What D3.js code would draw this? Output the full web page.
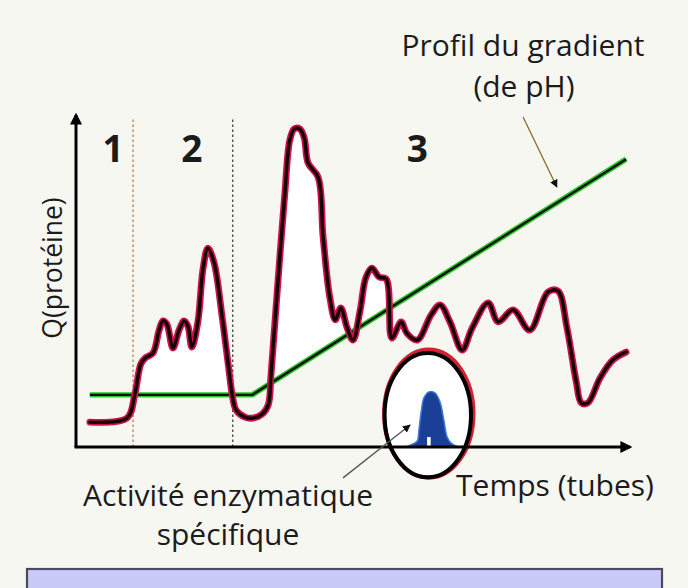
<!DOCTYPE html>
<html><head><meta charset="utf-8">
<script src="https://cdn.jsdelivr.net/npm/d3@7"></script>
<style>
html,body{margin:0;padding:0;background:#f7f7f2;}
svg{display:block;}
text{font-family:"Open Sans","Noto Sans",sans-serif;fill:#1b1b1b;}
</style></head>
<body>
<svg id="c" width="688" height="588"></svg>
<script>
// ---- data (x: tubes 0..100, y: arbitrary units 0..100) ----
const proteinX = [2.5,9.2,10.6,11.7,12.5,13.9,15.0,15.7,16.4,17.5,18.6,19.5,20.2,20.9,22.0,22.9,23.8,24.9,26.4,27.6,28.2,28.9,30.5,31.9,33.6,34.7,35.2,36.3,37.7,38.6,39.4,40.4,41.2,41.9,43.7,44.6,45.8,46.8,47.8,48.9,50.0,51.3,52.3,53.4,54.7,56.0,57.0,58.7,59.7,61.6,64.1,65.7,67.5,69.7,71.5,74.4,76.2,78.9,81.9,85.2,87.0,88.6,90.3,91.2,92.4,94.6,96.9,99.3];
const proteinY = [7.5,8.7,15.7,25.0,26.8,28.3,35.2,38.0,37.0,29.8,35.2,38.0,36.4,30.1,37.7,53.3,59.9,55.7,38.9,23.2,15.7,11.1,9.0,8.7,9.9,12.7,21.7,46.4,76.5,92.5,95.8,95.8,93.1,85.5,81.3,63.3,45.2,38.3,41.9,36.1,32.2,41.3,50.9,53.9,51.2,50.6,32.8,37.7,34.3,32.2,39.8,42.8,37.7,29.2,35.8,43.4,37.7,41.3,35.2,46.7,47.0,36.1,19.6,13.3,13.3,20.8,26.2,28.6];
const gradientX = [2.5,31.8,99.3];
const gradientY = [15.7,15.7,86.7];
const enzymeX = [59.6,60.8,61.6,61.9,62.3,62.8,63.7,64.8,65.7,66.4,67.0,67.7,69.0];
const enzymeY = [0,0.9,1.8,5.1,10.5,14.8,16.6,16.3,13.6,8.1,3.0,1.2,0];
const separators = [10.3, 28.3];
const regionLabels = ["1","2","3"];
const regionX = [6.7, 20.9, 61.6];

const svg = d3.select("#c");
const x = d3.scaleLinear().domain([0,100]).range([76,630]);
const y = d3.scaleLinear().domain([0,100]).range([447,115]);

const prot = proteinX.map((v,i)=>[v,proteinY[i]]);
const grad = gradientX.map((v,i)=>[v,gradientY[i]]);
const enz = enzymeX.map((v,i)=>[v,enzymeY[i]]);
const gradAt = d3.scaleLinear().domain(gradientX).range(gradientY).clamp(true);

const defs = svg.append("defs");
defs.append("marker").attr("id","axArrow").attr("viewBox","0 0 10 10")
  .attr("refX",8).attr("refY",5).attr("markerWidth",12).attr("markerHeight",12)
  .attr("orient","auto").attr("markerUnits","userSpaceOnUse")
  .append("path").attr("d","M0,0 L10,5 L0,10 z").attr("fill","#000");
defs.append("marker").attr("id","ann").attr("viewBox","0 0 10 10")
  .attr("refX",9).attr("refY",5).attr("markerWidth",8).attr("markerHeight",8)
  .attr("orient","auto").attr("markerUnits","userSpaceOnUse")
  .append("path").attr("d","M0,0 L10,5 L0,10 z").attr("fill","#111");

// clip: region above gradient line
const clipPts = [[x(0),0],[x(0),y(gradAt(0))]].concat(d3.range(0,101,1).map(v=>[x(v),y(gradAt(v))])).concat([[x(100),0]]);
defs.append("clipPath").attr("id","above").append("path").attr("d","M"+clipPts.join("L")+"Z");

// white fill under peaks
const area = d3.area().x(d=>x(d[0])).y0(d=>y(gradAt(d[0]))).y1(d=>y(d[1])).curve(d3.curveCatmullRom.alpha(0.5));
svg.append("path").datum(prot.slice(2)).attr("d",area).attr("fill","#ffffff").attr("clip-path","url(#above)");

// separators
svg.selectAll("line.sep").data(separators).join("line")
  .attr("x1",d=>x(d)).attr("x2",d=>x(d)).attr("y1",y(0)).attr("y2",y(99))
  .attr("stroke",(d,i)=>i===0?"#b07a45":"#333").attr("stroke-width",1.2)
  .attr("stroke-dasharray","2.5,2.5");

// region labels
svg.selectAll("text.reg").data(regionLabels).join("text")
  .attr("x",(d,i)=>x(regionX[i])).attr("y",162).attr("text-anchor","middle")
  .attr("font-size",37).attr("font-weight","bold").text(d=>d);

// gradient line
const line = d3.line().x(d=>x(d[0])).y(d=>y(d[1]));
svg.append("path").datum(grad).attr("d",line).attr("fill","none").attr("stroke","#2bc42b").attr("stroke-width",5.4).attr("stroke-linejoin","round");
svg.append("path").datum(grad).attr("d",line).attr("fill","none").attr("stroke","#0b160b").attr("stroke-width",2.4).attr("stroke-linejoin","round");

// protein curve
const cl = d3.line().x(d=>x(d[0])).y(d=>y(d[1])).curve(d3.curveCatmullRom.alpha(0.5));
svg.append("path").datum(prot).attr("d",cl).attr("fill","none").attr("stroke","#d0124c").attr("stroke-width",6.8).attr("stroke-linejoin","round").attr("stroke-linecap","round");
svg.append("path").datum(prot).attr("d",cl).attr("fill","none").attr("stroke","#140008").attr("stroke-width",3.4).attr("stroke-linejoin","round").attr("stroke-linecap","round");

// ellipse highlighting enzyme activity
const ecx = 63.5, ecy = 9.6, erx = 7.8, ery = 18.7;
svg.append("ellipse").attr("cx",x(ecx)+1).attr("cy",y(ecy)-1.5).attr("rx",x(erx)-x(0)+1.5).attr("ry",y(0)-y(ery)+2)
  .attr("fill","#ffffff").attr("stroke","#d42030").attr("stroke-width",4);
svg.append("ellipse").attr("cx",x(ecx)).attr("cy",y(ecy)).attr("rx",x(erx)-x(0)).attr("ry",y(0)-y(ery))
  .attr("fill","none").attr("stroke","#000").attr("stroke-width",4);

// enzyme peak
const ea = d3.area().x(d=>x(d[0])).y0(y(0)).y1(d=>y(d[1])).curve(d3.curveCatmullRom.alpha(0.5));
svg.append("path").datum(enz).attr("d",ea).attr("fill","#1b3f96").attr("stroke","#3d7fd8").attr("stroke-width",1.5);
const pk = enz[d3.maxIndex(enzymeY)];
svg.append("rect").attr("x",x(pk[0])-1.8).attr("y",y(3)).attr("width",3.6).attr("height",y(0)-y(3)-1).attr("fill","#ffffff");

// axes
svg.append("line").attr("x1",x(0)).attr("y1",y(0)).attr("x2",x(0)).attr("y2",y(100))
  .attr("stroke","#000").attr("stroke-width",3).attr("marker-end","url(#axArrow)");
svg.append("line").attr("x1",x(0)-1.5).attr("y1",y(0)).attr("x2",x(100)).attr("y2",y(0))
  .attr("stroke","#000").attr("stroke-width",3).attr("marker-end","url(#axArrow)");

// annotation arrows
svg.append("line").attr("x1",x(80.7)).attr("y1",y(99.4)).attr("x2",x(86.8)).attr("y2",y(78.3))
  .attr("stroke","#8a6a30").attr("stroke-width",1.3).attr("marker-end","url(#ann)");
svg.append("line").attr("x1",x(48.2)).attr("y1",y(-9.3)).attr("x2",x(60.3)).attr("y2",y(6.6))
  .attr("stroke","#555").attr("stroke-width",1.3).attr("marker-end","url(#ann)");

// texts
svg.append("text").attr("x",523).attr("y",56).attr("text-anchor","middle").attr("font-size",30).text("Profil du gradient");
svg.append("text").attr("x",524).attr("y",97).attr("text-anchor","middle").attr("font-size",30).text("(de pH)");
svg.append("text").attr("transform","translate(62,268) rotate(-90)").attr("text-anchor","middle").attr("font-size",26.5).text("Q(protéine)");
svg.append("text").attr("x",555).attr("y",496).attr("text-anchor","middle").attr("font-size",30).text("Temps (tubes)");
svg.append("text").attr("x",228).attr("y",506).attr("text-anchor","middle").attr("font-size",30).text("Activité enzymatique");
svg.append("text").attr("x",228).attr("y",545).attr("text-anchor","middle").attr("font-size",30).text("spécifique");

// bottom box
svg.append("rect").attr("x",27).attr("y",569).attr("width",635).attr("height",40)
  .attr("fill","#cacaf8").attr("stroke","#4a4a62").attr("stroke-width",2.2);
</script>
</body></html>
